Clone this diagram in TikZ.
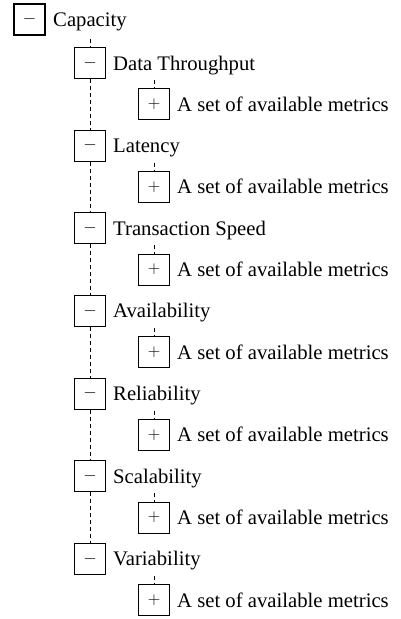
\documentclass[tikz,border=0pt]{standalone}
\usepackage{fontspec}
\setmainfont{Liberation Serif}
\usetikzlibrary{calc}
\begin{document}
\begin{tikzpicture}[x=1pt,y=-1pt,
  tbox/.style={draw,line width=1.2pt,minimum size=31pt,inner sep=0pt,font=\fontsize{18}{20}\selectfont},
  lbl/.style={anchor=base west,inner sep=0pt,font=\fontsize{20.7}{24}\selectfont},
  conn/.style={line width=1pt,dash pattern=on 4pt off 3pt}]
\useasboundingbox (0,0) rectangle (401,619);
\node[tbox] (b0) at (29.5,19.5) {$-$};
\node[lbl] (t0) at (53,26.5) {Capacity};
\foreach \name [count=\i from 0] in {Data Throughput,Latency,Transaction Speed,Availability,Reliability,Scalability,Variability} {
  \pgfmathsetmacro\ya{63+82.66*\i}
  \pgfmathsetmacro\yb{\ya+41.33}
  \node[tbox] (a\i) at (90,\ya) {$-$};
  \node[lbl] (ta\i) at (113,\ya+7) {\name};
  \node[tbox] (p\i) at (154,\yb) {$+$};
  \node[lbl] (tp\i) at (177,\yb+7) {A set of available metrics};
  \draw[conn] ($(ta\i.base -| p\i.north)+(0,10)$) -- (p\i.north);
}
\draw[conn] ($(t0.base -| a0.north)+(0,12)$) -- (a0.north);
\foreach \i [remember=\i as \j (initially 0)] in {1,...,6} {
  \draw[conn] (a\j.south) -- (a\i.north);
}
\end{tikzpicture}
\end{document}
